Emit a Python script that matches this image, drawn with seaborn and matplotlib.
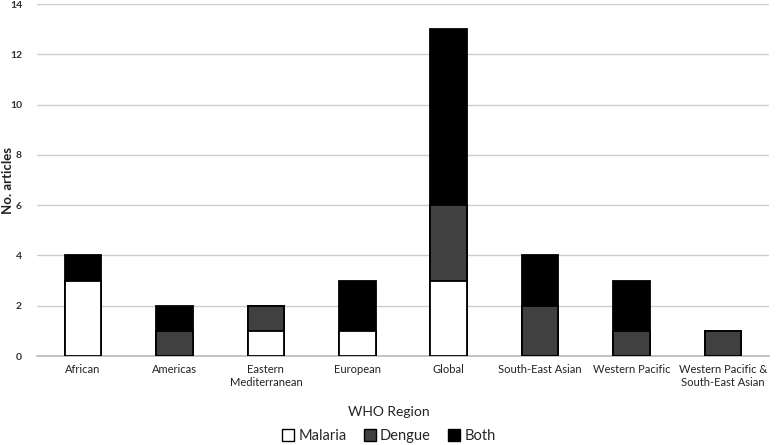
import matplotlib
matplotlib.use("Agg")
import matplotlib.pyplot as plt
import seaborn as sns
import pandas as pd
import numpy as np
from matplotlib.patches import Patch

regions = ["African", "Americas", "Eastern\nMediterranean", "European", "Global",
           "South-East Asian", "Western Pacific", "Western Pacific &\nSouth-East Asian"]
malaria = [3, 0, 1, 1, 3, 0, 0, 0]
dengue = [0, 1, 1, 0, 3, 2, 1, 1]
both = [1, 1, 0, 2, 7, 2, 2, 0]
yticks = [0, 2, 4, 6, 8, 10, 12, 14]

sns.set_theme(style="white")
plt.rcParams['font.family'] = ['Lato', 'DejaVu Sans']

df = pd.DataFrame({"region": regions, "Malaria": malaria, "Dengue": dengue, "Both": both})
df["c1"] = df["Malaria"]
df["c2"] = df["Malaria"] + df["Dengue"]
df["c3"] = df["c2"] + df["Both"]

fig = plt.figure(figsize=(7.78, 4.45), dpi=100)
ax = fig.add_axes([0.048, 0.2, 0.94, 0.791])

colors = {"Malaria": "#ffffff", "Dengue": "#404040", "Both": "#000000"}
for col, name in [("c3", "Both"), ("c2", "Dengue"), ("c1", "Malaria")]:
    sns.barplot(data=df, x="region", y=col, color=colors[name], width=0.4,
                edgecolor="black", linewidth=1.3, saturation=1, ax=ax, zorder=3)

ax.set_ylim(0, 14)
ax.set_yticks(yticks)
ax.set_yticklabels([str(v) for v in yticks], fontsize=7.5, fontweight="bold", color="#333333")
ax.tick_params(axis="x", labelsize=8, colors="#222222", length=0, pad=6)
ax.tick_params(axis="y", length=0, pad=11)
ax.grid(axis="y", color="#cccccc", linewidth=1, zorder=0)
ax.set_axisbelow(True)
for s in ["top", "right", "left"]:
    ax.spines[s].set_visible(False)
ax.spines["bottom"].set_color("#bbbbbb")
ax.set_xlabel("")
ax.set_ylabel("")
fig.text(0.5, 1 - 412 / 445, "WHO Region", ha="center", va="center", fontsize=10, color="#222222")
fig.text(8 / 778, 1 - 180 / 445, "No. articles", ha="center", va="center", rotation=90,
         fontsize=9.5, fontweight="bold", color="#222222")

handles = [Patch(facecolor=colors[n], edgecolor="black", linewidth=1) for n in ["Malaria", "Dengue", "Both"]]
fig.legend(handles, ["Malaria", "Dengue", "Both"], loc="center", ncol=3,
           bbox_to_anchor=(0.5, 1 - 436 / 445), frameon=False, fontsize=10.5,
           handlelength=0.8, handleheight=0.8, handletextpad=0.3, columnspacing=1.2,
           borderpad=0, borderaxespad=0)

fig.savefig("out.png", dpi=100)
